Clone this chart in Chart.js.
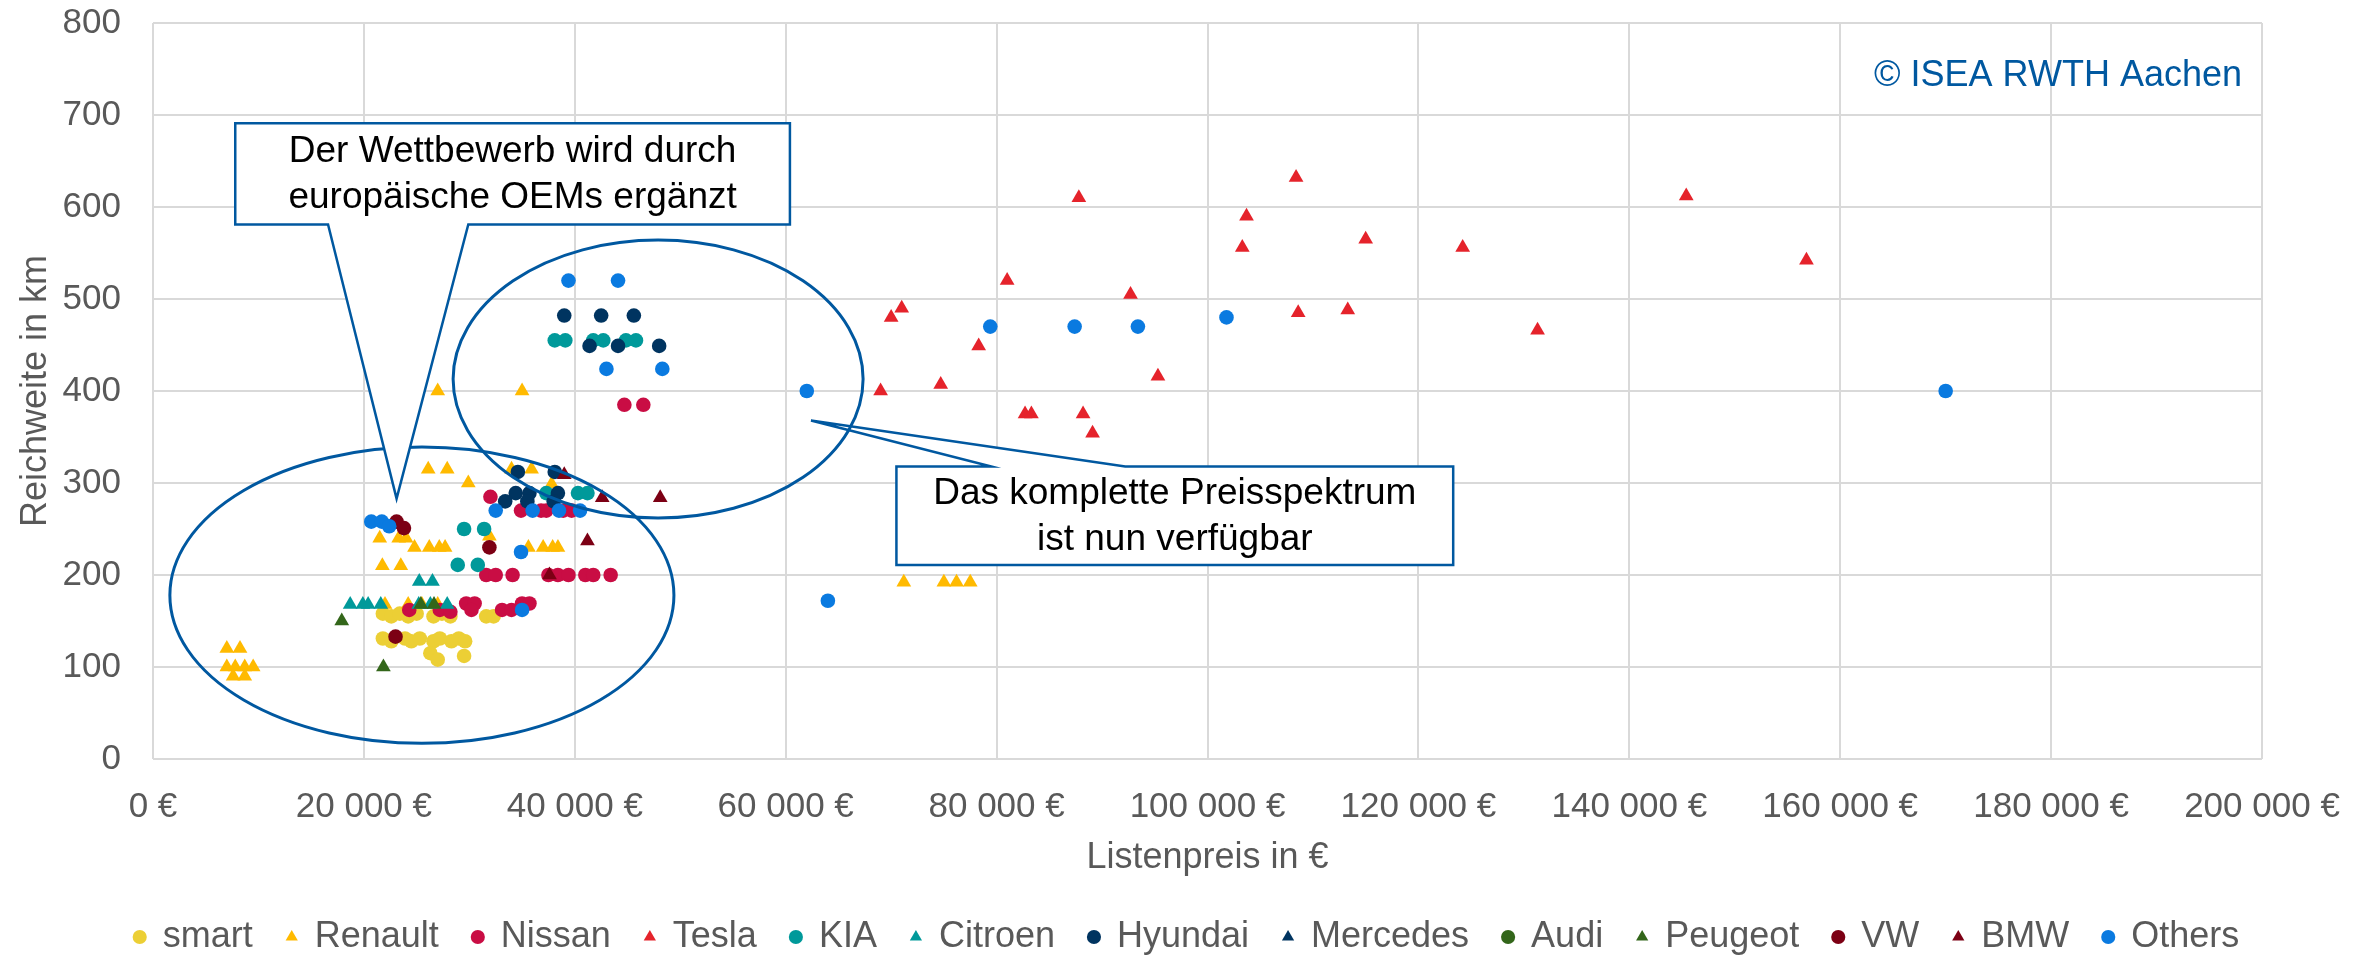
<!DOCTYPE html>
<html>
<head>
<meta charset="utf-8">
<script src="https://cdn.jsdelivr.net/npm/chart.js@4.4.1/dist/chart.umd.min.js"></script>
<style>
  html, body { margin: 0; padding: 0; background: #fff; }
  #wrap { width: 2374px; height: 956px; }
</style>
</head>
<body>
<div id="wrap"><canvas id="chart" width="2374" height="956"></canvas></div>
<script>
// Reichweite vs. Listenpreis of BEV models, per brand: [price in €, range in km]

const smart = [
  [21800, 158], [22600, 155], [23400, 158], [24200, 155], [25000, 158],
  [26600, 155], [27400, 158], [28200, 155], [31600, 155], [32300, 155],
  [21800, 131], [22600, 128], [23900, 131], [24500, 128], [25300, 131],
  [26600, 128], [27200, 131], [28300, 128], [29000, 131], [29600, 128],
  [26300, 115], [27000, 108], [29500, 112]
];
const renault = [
  [7000, 120], [8250, 120], [7000, 100], [7800, 100], [8700, 100], [9500, 100], [7600, 90], [8700, 90],
  [26100, 315], [27900, 315], [29900, 300], [34000, 315], [35900, 315], [37800, 299],
  [21500, 240], [23300, 240], [24000, 240], [31900, 242],
  [24800, 230], [26200, 230], [27150, 230], [27700, 230], [35600, 230], [37000, 230], [37900, 230], [38400, 230],
  [21750, 210], [23500, 210],
  [22000, 168], [24200, 168], [25500, 168], [27000, 168],
  [27000, 400], [35000, 400],
  [71200, 192], [75000, 192], [76200, 192], [77500, 192]
];
const nissan = [
  [44700, 385], [46500, 385], [32000, 285],
  [34900, 270], [36800, 270], [37300, 270], [38900, 270], [39700, 270],
  [31600, 200], [32500, 200], [34100, 200], [37500, 200], [38400, 200], [39400, 200], [41000, 200], [41750, 200], [43400, 200],
  [24300, 162], [27200, 162], [28200, 160], [29700, 169], [30500, 169], [30200, 162], [33100, 162], [34000, 162], [35000, 169], [35700, 169]
];
const tesla = [
  [87800, 610], [108400, 632], [103700, 590], [103300, 556], [115000, 565], [124200, 556],
  [145400, 612], [156800, 542], [81000, 520], [92700, 505], [71000, 490], [70000, 480],
  [108600, 485], [113300, 488], [131300, 466], [78300, 449], [95300, 416], [74700, 407],
  [69000, 400], [82700, 375], [83300, 375], [88200, 375], [89100, 354]
];
const kia = [
  [38100, 455], [39100, 455], [41750, 455], [42700, 455], [44850, 455], [45800, 455],
  [29500, 250], [31400, 250], [28900, 211], [30800, 211],
  [37300, 289], [40300, 289], [41200, 289]
];
const citroen = [
  [18700, 168], [19900, 168], [20400, 168], [21600, 168], [25200, 168], [26300, 168], [27900, 168],
  [25250, 193], [26500, 193]
];
const hyundai = [
  [39000, 482], [42500, 482], [45600, 482], [41400, 449], [44100, 449], [48000, 449],
  [34600, 312], [38100, 312], [34400, 289], [35700, 289], [38400, 289], [33400, 280], [35500, 280], [38000, 280]
];
const mercedes = [];
const audi = [];
const peugeot = [[17900, 150], [21850, 100], [25400, 168], [26650, 168]];
const vw = [[23100, 258], [23800, 251], [31900, 230], [23000, 133]];
const bmw = [[39000, 309], [37600, 200], [41200, 237], [42600, 284], [48100, 284]];
const others = [
  [39400, 520], [44100, 520], [43000, 424], [48300, 424],
  [20700, 258], [21700, 258], [22400, 253], [34900, 225], [35000, 162],
  [32500, 270], [36000, 270], [38500, 270], [40500, 270],
  [62000, 400], [64000, 172], [79400, 470], [87400, 470], [93400, 470], [101800, 480], [170000, 400]
];

const seriesNames = ["smart", "Renault", "Nissan", "Tesla", "KIA", "Citroen", "Hyundai",
  "Mercedes", "Audi", "Peugeot", "VW", "BMW", "Others"];
const seriesValues = [smart, renault, nissan, tesla, kia, citroen, hyundai,
  mercedes, audi, peugeot, vw, bmw, others];

// styles
const seriesColors = ["#ECCF35", "#FFBA00", "#C90D44", "#E5232B", "#00999A", "#00999A", "#003460",
  "#003460", "#33661A", "#33661A", "#7C0014", "#7C0014", "#0A7AE0"];
const seriesShapes = ["circle", "triangle", "circle", "triangle", "circle", "triangle", "circle",
  "triangle", "circle", "triangle", "circle", "triangle", "circle"];

const FONT = "'Liberation Sans', Arial, sans-serif";
const GREY_TEXT = "#595959";
const GRID = "#d9d9d9";
const NOTE_BLUE = "#0058A0";

// annotation shapes (in data units)
const lowerEllipse = { cx: 25500, cy: 178, rx: 23900, ry: 161 };
const upperEllipse = { cx: 47900, cy: 413, rx: 19440, ry: 151 };
const callouts = [
  {
    box: [7800, 691, 60400, 581],
    pointer: { edge: "bottom", from: 16600, to: 29900, tip: [23100, 283] },
    lines: ["Der Wettbewerb wird durch", "europäische OEMs ergänzt"]
  },
  {
    box: [70500, 318, 123300, 211],
    pointer: { edge: "top", from: 79500, to: 92200, tip: [62400, 368] },
    lines: ["Das komplette Preisspektrum", "ist nun verfügbar"]
  }
];

const formatEuro = (v) =>
  String(v).replace(/\B(?=(\d{3})+(?!\d))/g, " ") + " €";

const annotationPlugin = {
  id: "annotations",
  afterDatasetsDraw(chart) {
    const { ctx, chartArea } = chart;
    const xs = chart.scales.x;
    const ys = chart.scales.y;
    const px = (v) => xs.getPixelForValue(v);
    const py = (v) => ys.getPixelForValue(v);

    const drawEllipse = (e) => {
      ctx.beginPath();
      ctx.ellipse(px(e.cx), py(e.cy), px(e.cx + e.rx) - px(e.cx), py(e.cy) - py(e.cy + e.ry), 0, 0, Math.PI * 2);
      ctx.lineWidth = 3;
      ctx.strokeStyle = NOTE_BLUE;
      ctx.stroke();
    };

    const drawCallout = (c) => {
      const l = px(c.box[0]), t = py(c.box[1]), r = px(c.box[2]), b = py(c.box[3]);
      const p = c.pointer;
      const f = px(p.from), to = px(p.to), tx = px(p.tip[0]), ty = py(p.tip[1]);
      ctx.beginPath();
      ctx.moveTo(l, t);
      if (p.edge === "top") {
        ctx.lineTo(f, t); ctx.lineTo(tx, ty); ctx.lineTo(to, t);
      }
      ctx.lineTo(r, t);
      ctx.lineTo(r, b);
      if (p.edge === "bottom") {
        ctx.lineTo(to, b); ctx.lineTo(tx, ty); ctx.lineTo(f, b);
      }
      ctx.lineTo(l, b);
      ctx.closePath();
      ctx.fillStyle = "#fff";
      ctx.fill();
      ctx.lineWidth = 2.5;
      ctx.strokeStyle = NOTE_BLUE;
      ctx.stroke();

      ctx.fillStyle = "#000";
      ctx.font = "37px " + FONT;
      ctx.textAlign = "center";
      ctx.textBaseline = "middle";
      const cx = (l + r) / 2, cy = (t + b) / 2;
      ctx.fillText(c.lines[0], cx, cy - 22);
      ctx.fillText(c.lines[1], cx, cy + 24);
    };

    ctx.save();
    drawEllipse(lowerEllipse);
    drawCallout(callouts[0]);
    drawCallout(callouts[1]);
    drawEllipse(upperEllipse);

    ctx.fillStyle = NOTE_BLUE;
    ctx.font = "36px " + FONT;
    ctx.textAlign = "right";
    ctx.textBaseline = "middle";
    ctx.fillText("© ISEA RWTH Aachen", chartArea.right - 20, chartArea.top + 53);
    ctx.restore();
  }
};

// the legend should be centred on the whole canvas, not on the padded area
const legendCenter = {
  id: "legendCenter",
  afterLayout(chart) {
    const lg = chart.legend;
    if (!lg) return;
    lg.left = 0;
    lg.right = chart.width;
    lg.width = chart.width;
  }
};

Chart.defaults.font.family = FONT;

const datasets = seriesNames.map((name, i) => ({
  label: name,
  data: seriesValues[i].map(([x, y]) => ({ x, y })),
  pointStyle: seriesShapes[i],
  pointRadius: seriesShapes[i] === "circle" ? 7.3 : 8.5,
  pointHoverRadius: 8,
  backgroundColor: seriesColors[i],
  borderColor: seriesColors[i],
  borderWidth: 0,
  order: -i // later series drawn on top, like the original
}));

new Chart(document.getElementById("chart"), {
  type: "scatter",
  data: { datasets },
  options: {
    responsive: false,
    devicePixelRatio: 1,
    animation: false,
    layout: { padding: { top: 23, right: 112, left: 0, bottom: -9 } },
    plugins: {
      tooltip: { enabled: false },
      legend: {
        position: "bottom",
        labels: {
          usePointStyle: true,
          boxWidth: 10,
          boxHeight: 10,
          padding: 34,
          color: GREY_TEXT,
          font: { size: 36 },
          sort: (a, b) => a.datasetIndex - b.datasetIndex
        }
      }
    },
    scales: {
      x: {
        type: "linear",
        min: 0,
        max: 200000,
        ticks: {
          stepSize: 20000,
          callback: formatEuro,
          color: GREY_TEXT,
          font: { size: 35 },
          padding: 27,
          maxRotation: 0,
          autoSkip: false
        },
        grid: { color: GRID, lineWidth: 2, drawTicks: false },
        border: { display: false },
        title: {
          display: true,
          text: "Listenpreis in €",
          color: GREY_TEXT,
          font: { size: 36 },
          padding: { top: 0, bottom: 5 }
        },
        afterFit: (scale) => { scale.height = 126; }
      },
      y: {
        min: 0,
        max: 800,
        ticks: {
          stepSize: 100,
          color: GREY_TEXT,
          font: { size: 35 },
          padding: 0
        },
        grid: {
          color: GRID,
          lineWidth: 2,
          drawTicks: true,
          tickLength: 32,
          tickColor: "rgba(0,0,0,0)"
        },
        border: { display: false },
        title: {
          display: true,
          text: "Reichweite in km",
          color: GREY_TEXT,
          font: { size: 36 },
          padding: { top: 14, bottom: 0 }
        },
        afterFit: (scale) => { scale.width = 153; }
      }
    }
  },
  plugins: [annotationPlugin, legendCenter]
});
</script>
</body>
</html>
